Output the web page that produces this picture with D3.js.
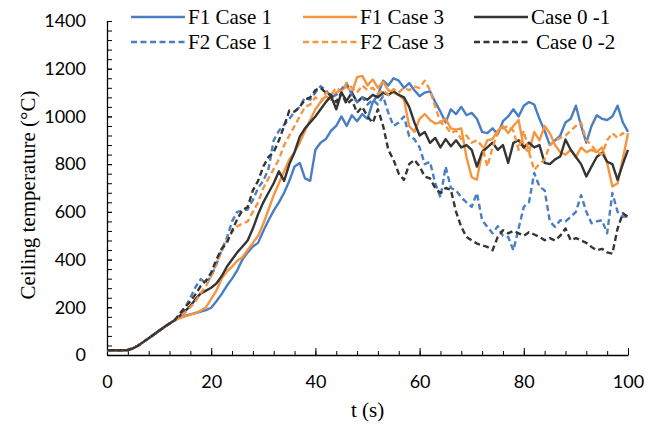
<!DOCTYPE html>
<html>
<head>
<meta charset="utf-8">
<script src="https://cdn.jsdelivr.net/npm/d3@7"></script>
<style>
  html, body { margin: 0; padding: 0; background: #fff; }
  svg { display: block; }
</style>
</head>
<body>
<div id="chart"></div>
<script>
/* ceiling temperature vs time, six runs */

// time axis, one sample per second
const T = d3.range(0, 101);

const f1Case1 = [20,20,20,20,21,28,40,55,70,86,102,117,132,146,
  157,165,170,176,182,188,198,225,255,290,320,355,400,430,455,470,
  520,565,605,640,680,730,790,805,740,730,860,890,905,940,960,1000,
  960,1005,980,1010,990,1060,1090,1150,1130,1160,1150,1120,1140,1110,
  1085,1100,1105,1060,1020,975,1030,1010,1040,1005,1015,990,935,930,950,
  925,980,1000,1030,1000,1045,1060,1050,990,940,880,900,920,975,990,
  1045,960,890,960,1005,990,985,1000,1045,975,935];

const f1Case3 = [20,20,20,20,21,28,40,55,70,86,102,117,132,146,
  155,162,168,176,186,200,235,270,320,350,370,395,410,440,470,500,
  550,610,670,720,770,820,850,890,940,985,1030,1060,1085,1070,1100,1110,
  1125,1100,1165,1170,1130,1155,1120,1145,1110,1100,1090,1070,960,935,
  990,1010,985,970,975,990,950,945,950,830,745,735,850,900,905,
  940,960,930,960,985,870,850,935,900,960,930,880,850,840,860,
  830,870,850,860,850,870,805,706,720,820,930];

const case01 = [20,20,20,20,21,28,40,55,70,86,102,117,132,146,
  165,185,205,235,258,270,282,300,330,370,400,430,455,480,530,590,
  640,680,720,770,730,800,850,915,950,975,1000,1030,1060,1085,1030,1100,
  1065,1100,1060,1080,1070,1090,1080,1100,1090,1105,1090,1080,1040,975,
  920,935,889,910,870,905,875,900,870,880,860,790,850,870,890,
  860,880,805,889,900,870,890,870,880,805,800,820,832,903,860,
  830,800,748,790,830,848,810,800,734,800,860];

const f2Case1 = [20,20,20,20,21,28,40,55,70,86,102,117,132,146,
  170,200,240,285,318,300,330,380,440,490,560,600,605,610,650,700,
  730,780,900,940,965,990,1020,1040,1080,1070,1100,1127,1110,1080,1090,1115,
  1140,1090,1060,1080,1050,1070,1050,1085,1015,960,975,1000,917,905,
  870,800,810,720,660,790,700,690,660,640,621,679,565,537,510,
  540,500,495,439,530,621,640,763,706,690,560,537,565,560,579,
  600,670,600,552,560,565,510,679,600,580,579];

const f2Case3 = [20,20,20,20,21,28,40,55,70,86,102,117,132,146,
  160,178,200,225,260,290,330,385,435,480,515,540,550,560,600,640,
  700,740,780,820,880,920,960,1000,1040,1050,1080,1060,1100,1090,1120,1105,
  1140,1120,1100,1130,1110,1120,1095,1110,1090,1115,1100,1120,1110,1125,
  1120,1150,1110,1040,975,960,930,940,905,920,890,900,875,790,870,
  930,950,960,940,860,940,850,776,800,820,880,900,910,920,940,
  960,975,900,880,850,840,900,930,910,930,910];

const case02 = [20,20,20,20,21,28,40,55,70,86,102,117,132,146,
  175,200,225,255,290,312,345,400,445,470,520,570,607,620,690,730,
  790,830,850,900,960,1025,1020,1040,1070,1080,1110,1120,1100,1090,1060,1100,
  1050,1070,1015,1040,1000,973,1030,960,860,818,760,734,800,818,
  790,748,740,700,679,700,692,600,537,495,480,467,460,453,439,
  495,523,510,520,510,500,515,505,495,481,490,480,500,530,481,
  490,480,470,453,439,445,430,425,530,594,579];

const seriesNames = ["F1 Case 1", "F1 Case 3", "Case 0 -1", "F2 Case 1", "F2 Case 3", "Case 0 -2"];
const seriesValues = [f1Case1, f1Case3, case01, f2Case1, f2Case3, case02];
const xTickLabels = [0, 20, 40, 60, 80, 100];
const yTickLabels = [0, 200, 400, 600, 800, 1000, 1200, 1400];

const BLUE = "#4a7ec4", ORANGE = "#f5953f", DARK = "#353535";
const styles = [
  {color: BLUE,   dash: null},
  {color: ORANGE, dash: null},
  {color: DARK,   dash: null},
  {color: BLUE,   dash: "6,3.5"},
  {color: ORANGE, dash: "6,3.5"},
  {color: DARK,   dash: "6,3.5"}
];

const W = 656, H = 431;
const M = {top: 21, right: 28, bottom: 76, left: 107};
const IW = W - M.left - M.right, IH = H - M.top - M.bottom;

const svg = d3.select("#chart").append("svg")
  .attr("width", W).attr("height", H)
  .style("background", "#fff");

const g = svg.append("g").attr("transform", `translate(${M.left},${M.top})`);

const x = d3.scaleLinear().domain([0, 100]).range([0, IW]);
const y = d3.scaleLinear().domain([0, 1400]).range([IH, 0]);

/* ---------- axes ---------- */
const tickFont = "Lato, 'Open Sans', sans-serif";

// minor ticks first, majors on top
g.append("g").attr("transform", `translate(0,${IH})`)
  .call(d3.axisBottom(x).tickValues(d3.range(0, 101, 4)).tickSize(-4).tickFormat(""))
  .call(a => a.select(".domain").remove());
g.append("g").call(d3.axisLeft(y).tickValues(d3.range(0, 1401, 40)).tickSize(-5).tickFormat(""))
  .call(a => a.select(".domain").remove());

const xAxis = g.append("g").attr("transform", `translate(0,${IH})`)
  .call(d3.axisBottom(x).tickValues(xTickLabels).tickSize(-7).tickPadding(20)
    .tickSizeOuter(0).tickFormat(d3.format("d")));
const yAxis = g.append("g")
  .call(d3.axisLeft(y).tickValues(yTickLabels).tickSize(-5).tickPadding(21)
    .tickSizeOuter(0).tickFormat(d3.format("d")));

[xAxis, yAxis].forEach(a => {
  a.selectAll("text").style("font-family", tickFont).style("font-size", "18px").attr("fill", "#000");
  a.select(".domain").attr("stroke", "#000").attr("stroke-width", 1.3);
});
g.selectAll(".tick line").attr("stroke", "#000");

/* ---------- lines ---------- */
const line = d3.line().x((d, i) => x(T[i])).y(d => y(d));

seriesValues.forEach((vals, k) => {
  g.append("path")
    .datum(vals)
    .attr("fill", "none")
    .attr("stroke", styles[k].color)
    .attr("stroke-width", 2.4)
    .attr("stroke-linejoin", "round")
    .attr("stroke-dasharray", styles[k].dash)
    .attr("d", line);
});

/* ---------- axis titles ---------- */
const serif = "'Liberation Serif', 'Times New Roman', serif";
svg.append("text")
  .attr("transform", "translate(28,195) rotate(-90)")
  .attr("text-anchor", "middle").attr("dy", "0.35em")
  .style("font-family", serif).style("font-size", "21px")
  .text("Ceiling temperature (°C)");

svg.append("text")
  .attr("x", M.left + IW / 2).attr("y", 410)
  .attr("text-anchor", "middle").attr("dy", "0.35em")
  .style("font-family", serif).style("font-size", "21px")
  .text("t (s)");

/* ---------- legend ---------- */
const legX = [131, 303, 474], legY = [17, 42];
const leg = svg.append("g");
seriesNames.forEach((name, k) => {
  const col = k % 3, row = Math.floor(k / 3);
  const lx = legX[col], ly = legY[row];
  leg.append("line")
    .attr("x1", lx).attr("x2", lx + 54).attr("y1", ly).attr("y2", ly)
    .attr("stroke", styles[k].color).attr("stroke-width", 2.4)
    .attr("stroke-dasharray", styles[k].dash);
  leg.append("text")
    .attr("x", lx + 57 + (name === "Case 0 -2" ? 5 : 0)).attr("y", ly)
    .attr("dy", "0.35em")
    .style("font-family", serif).style("font-size", "21px")
    .text(name);
});
</script>
</body>
</html>
